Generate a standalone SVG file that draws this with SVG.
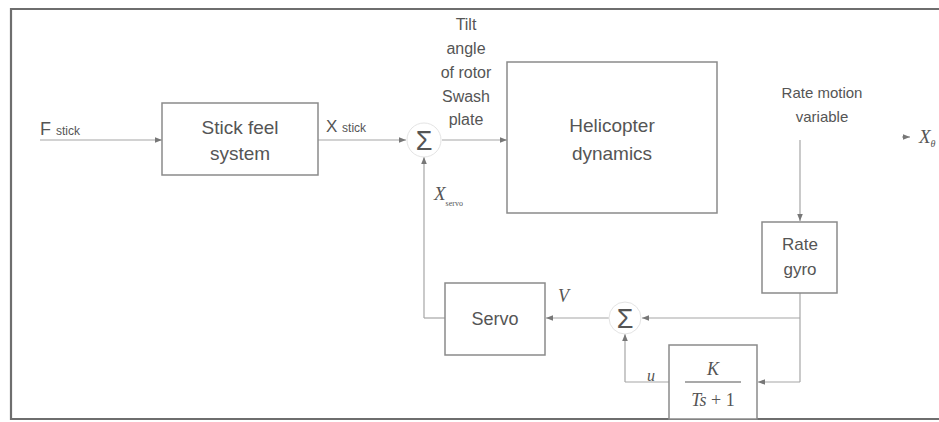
<svg xmlns="http://www.w3.org/2000/svg" width="939" height="422" viewBox="0 0 939 422">
<defs>
<marker id="ah" viewBox="0 0 10 10" refX="10" refY="5" markerWidth="7" markerHeight="7" markerUnits="userSpaceOnUse" orient="auto">
<path d="M0,1 L10,5 L0,9 Z" fill="#777"/>
</marker>
</defs>
<style>
.box{fill:#fff;stroke:#8a8a8a;stroke-width:1.5}
.t{font-family:"Liberation Sans",Arial,sans-serif;fill:#555;text-anchor:middle}
.m{font-family:"Liberation Serif","Times New Roman",serif;fill:#555;font-style:italic}
.ln{fill:none;stroke:#a6a6a6;stroke-width:1.2;marker-end:url(#ah)}
.ln2{fill:none;stroke:#a6a6a6;stroke-width:1.2}
.sum{fill:#fff;stroke:#e4e4e4;stroke-width:1}
</style>
<rect width="939" height="422" fill="#fff"/>
<path d="M940,9 L11,9 L11,419 L940,419" fill="none" stroke="#6e6e6e" stroke-width="2.2"/>

<g id="connectors">
<path class="ln" d="M40,140 L162,140"/>
<path class="ln" d="M318,140 L406,140"/>
<path class="ln" d="M442,140 L507,140"/>
<path class="ln" d="M800,140 L800,221"/>
<path class="ln2" d="M800,293 L800,382"/>
<path class="ln" d="M800,382 L758,382"/>
<path class="ln" d="M800,318 L642,318"/>
<path class="ln" d="M609,318 L546,318"/>
<path class="ln2" d="M669,382 L625,382"/>
<path class="ln" d="M625,382 L625,334"/>
<path class="ln2" d="M445,318 L424,318"/>
<path class="ln" d="M424,318 L424,157"/>
<path class="ln" d="M902,137 L910,137"/>
</g>

<g id="f-stick">
<text x="40" y="135" class="t" style="text-anchor:start;font-size:18px">F <tspan style="font-size:12px">stick</tspan></text>
</g>

<g id="stick-feel">
<rect class="box" x="162" y="103" width="156" height="72"/>
<text x="240" y="134" class="t" font-size="19">Stick feel</text>
<text x="240" y="160" class="t" font-size="19">system</text>
</g>

<g id="x-stick-label">
<text x="326" y="132" class="t" style="text-anchor:start;font-size:17px">X <tspan style="font-size:12px">stick</tspan></text>
</g>

<g id="sum1">
<circle class="sum" cx="424" cy="140" r="17"/>
<text x="424" y="150" class="t" font-size="27" font-family="Liberation Serif">Σ</text>
</g>

<g id="tilt-label">
<text x="466" y="30" class="t" font-size="16">Tilt</text>
<text x="466" y="54" class="t" font-size="16">angle</text>
<text x="466" y="78" class="t" font-size="16">of rotor</text>
<text x="466" y="102" class="t" font-size="16">Swash</text>
<text x="466" y="125" class="t" font-size="16">plate</text>
</g>

<g id="helicopter">
<rect class="box" x="507" y="62" width="210" height="151"/>
<text x="612" y="132" class="t" font-size="19">Helicopter</text>
<text x="612" y="160" class="t" font-size="19">dynamics</text>
</g>

<g id="rate-motion-label">
<text x="822" y="98" class="t" font-size="15">Rate motion</text>
<text x="822" y="122" class="t" font-size="15">variable</text>
</g>

<g id="output-label">
<text x="919" y="143" class="m" font-size="19">X<tspan font-size="10" dy="4">θ</tspan></text>
</g>

<g id="rate-gyro">
<rect class="box" x="762" y="222" width="75" height="71"/>
<text x="800" y="250" class="t" font-size="17">Rate</text>
<text x="800" y="275" class="t" font-size="17">gyro</text>
</g>

<g id="xservo-label">
<text x="434" y="200" class="m" font-size="19">X<tspan font-size="8" dy="6" font-style="normal">servo</tspan></text>
</g>

<g id="sum2">
<circle class="sum" cx="625" cy="318" r="16"/>
<text x="625" y="328" class="t" font-size="27" font-family="Liberation Serif">Σ</text>
</g>

<g id="v-label">
<text x="558" y="302" class="m" font-size="18">V</text>
</g>

<g id="servo">
<rect class="box" x="445" y="283" width="100" height="72"/>
<text x="495" y="325" class="t" font-size="18">Servo</text>
</g>

<g id="u-label">
<text x="647" y="381" class="m" font-size="16">u</text>
</g>

<g id="filter">
<rect class="box" x="669" y="345" width="88" height="74"/>
<text x="713" y="375" class="m" font-size="18" text-anchor="middle">K</text>
<line x1="685" y1="382" x2="741" y2="382" stroke="#555" stroke-width="1.2"/>
<text x="713" y="406" class="m" font-size="18" text-anchor="middle">Ts<tspan font-style="normal"> + 1</tspan></text>
</g>
</svg>
